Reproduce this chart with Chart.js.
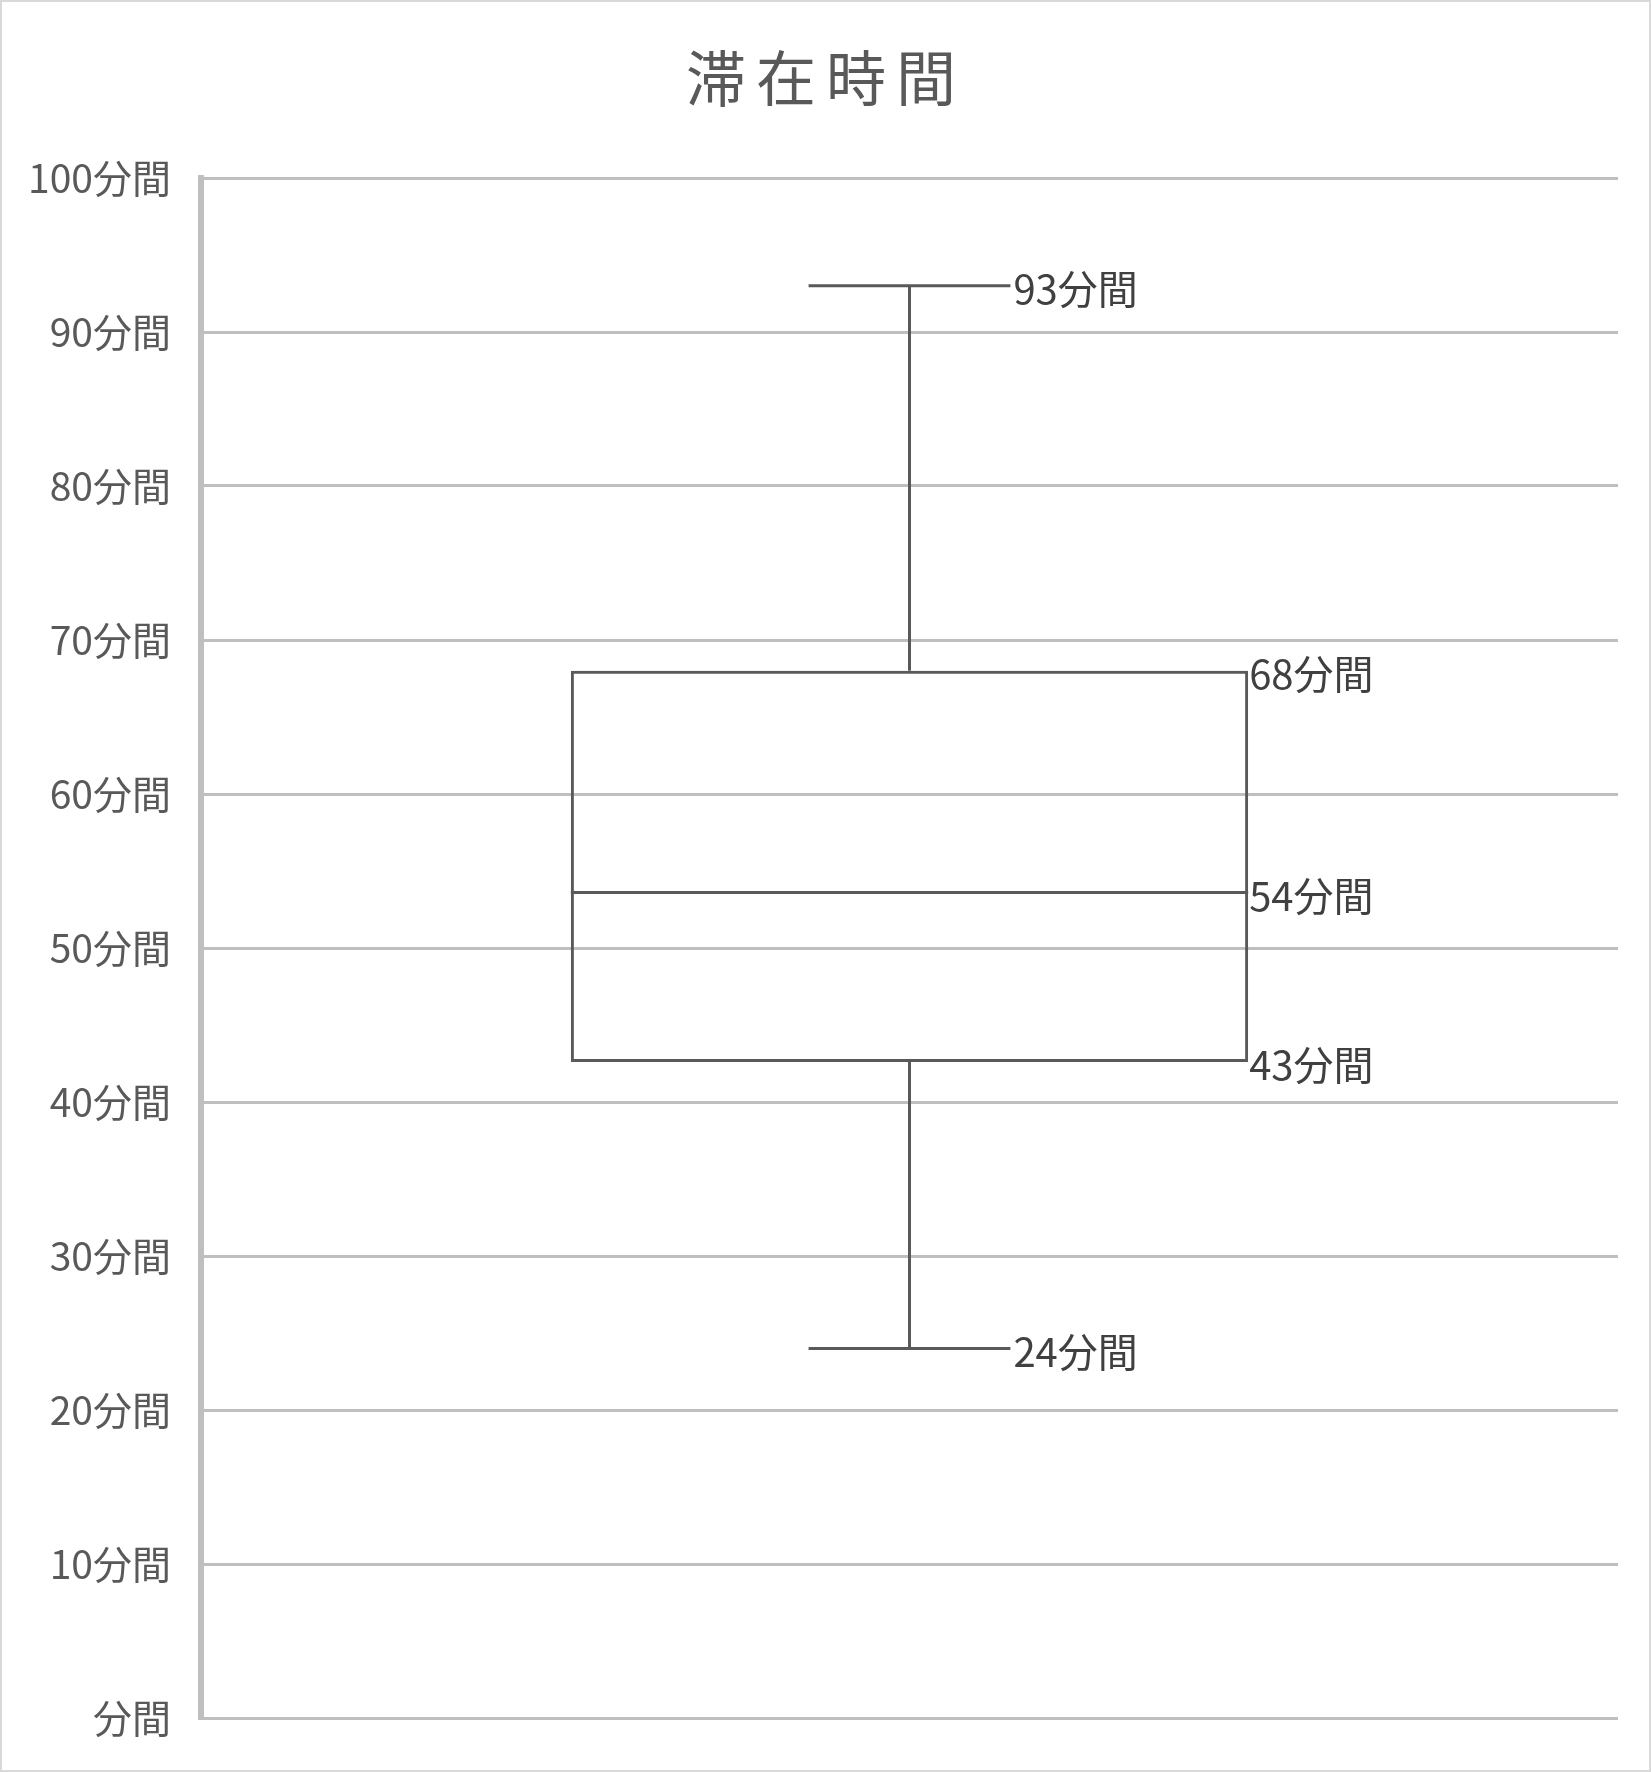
<!DOCTYPE html>
<html>
<head>
<meta charset="utf-8">
<script src="https://cdn.jsdelivr.net/npm/chart.js@4/dist/chart.umd.min.js"></script>
<style>
  html, body { margin: 0; padding: 0; background: #fff; }
  canvas { display: block; }
</style>
</head>
<body>
<canvas id="chart" width="1651" height="1772"></canvas>
<script>
// values
const CATEGORIES = ['滞在時間'];
const MIN_VALUES = [24];
const Q1_VALUES = [42.6];
const MEDIAN_VALUES = [53.6];
const Q3_VALUES = [68];
const MAX_VALUES = [93];
const TITLE = '滞在時間';
const UNIT = '分間';

const FONT = '"Noto Sans CJK JP", "Noto Sans", sans-serif';
const LINE = '#595959';

// white page with thin grey frame
const frame = {
    id: 'frame',
    beforeDraw(chart) {
        const ctx = chart.ctx;
        ctx.save();
        ctx.fillStyle = '#fff';
        ctx.fillRect(0, 0, chart.width, chart.height);
        ctx.strokeStyle = '#d9d9d9';
        ctx.lineWidth = 2;
        ctx.strokeRect(1, 1, chart.width - 2, chart.height - 2);
        ctx.restore();
    }
};

// spread the title letters a little, like the original
const titleSpacing = {
    id: 'titleSpacing',
    afterLayout(chart) {
        const t = chart.titleBlock;
        if (!t || t._spaced) return;
        const draw = t.draw.bind(t);
        t.draw = function () {
            const ctx = chart.ctx;
            ctx.save();
            ctx.letterSpacing = '10px';
            ctx.translate(17, 0);
            draw();
            ctx.restore();
        };
        t._spaced = true;
    }
};

// whiskers, median and value labels on top of the floating bar box
const boxPlot = {
    id: 'boxPlot',
    afterDatasetsDraw(chart) {
        const ctx = chart.ctx;
        const y = chart.scales.y;
        const meta = chart.getDatasetMeta(0);
        ctx.save();
        ctx.strokeStyle = LINE;
        ctx.lineWidth = 3;
        for (let i = 0; i < meta.data.length; i++) {
            const bar = meta.data[i];
            const x = bar.x;
            const half = bar.width / 2;
            const cap = bar.width * 0.149;
            const yMin = y.getPixelForValue(MIN_VALUES[i]);
            const yQ1 = y.getPixelForValue(Q1_VALUES[i]);
            const yMed = y.getPixelForValue(MEDIAN_VALUES[i]);
            const yQ3 = y.getPixelForValue(Q3_VALUES[i]);
            const yMax = y.getPixelForValue(MAX_VALUES[i]);

            ctx.beginPath();
            ctx.moveTo(x, yQ3); ctx.lineTo(x, yMax);
            ctx.moveTo(x, yQ1); ctx.lineTo(x, yMin);
            ctx.moveTo(x - cap, yMax); ctx.lineTo(x + cap, yMax);
            ctx.moveTo(x - cap, yMin); ctx.lineTo(x + cap, yMin);
            ctx.moveTo(x - half, yMed); ctx.lineTo(x + half, yMed);
            ctx.stroke();

            ctx.fillStyle = '#404040';
            ctx.font = '40px ' + FONT;
            ctx.textAlign = 'left';
            ctx.textBaseline = 'middle';
            ctx.fillText(Math.round(MAX_VALUES[i]) + UNIT, x + cap + 3, yMax + 3);
            ctx.fillText(Math.round(MIN_VALUES[i]) + UNIT, x + cap + 3, yMin + 3);
            ctx.fillText(Math.round(Q3_VALUES[i]) + UNIT, x + half + 1, yQ3 + 3);
            ctx.fillText(Math.round(MEDIAN_VALUES[i]) + UNIT, x + half + 1, yMed + 3);
            ctx.fillText(Math.round(Q1_VALUES[i]) + UNIT, x + half + 1, yQ1 + 3);
        }
        ctx.restore();
    }
};

const boxes = [];
for (let i = 0; i < CATEGORIES.length; i++) {
    boxes.push([Q1_VALUES[i], Q3_VALUES[i]]);
}

new Chart(document.getElementById('chart'), {
    type: 'bar',
    data: {
        labels: CATEGORIES,
        datasets: [{
            label: TITLE,
            data: boxes,
            backgroundColor: 'rgba(0,0,0,0)',
            borderColor: LINE,
            borderWidth: 3,
            borderSkipped: false,
            barPercentage: 0.478,
            categoryPercentage: 1
        }]
    },
    options: {
        responsive: false,
        animation: false,
        devicePixelRatio: 1,
        layout: { padding: { left: 0, right: 33, top: 0, bottom: 54 } },
        plugins: {
            legend: { display: false },
            tooltip: { enabled: false },
            title: {
                display: true,
                text: TITLE,
                color: LINE,
                font: { family: FONT, size: 60, weight: 'normal' },
                padding: { top: 42, bottom: 64 }
            }
        },
        scales: {
            x: { display: false },
            y: {
                min: 0,
                max: 100,
                afterFit(scale) { scale.width = 201; },
                ticks: {
                    stepSize: 10,
                    padding: 30,
                    color: LINE,
                    font: { family: FONT, size: 39 },
                    callback: (v) => (v === 0 ? '' : v) + UNIT
                },
                grid: { color: '#bfbfbf', lineWidth: 3, drawTicks: false },
                border: { display: true, color: '#bfbfbf', width: 6 }
            }
        }
    },
    plugins: [frame, titleSpacing, boxPlot]
});
</script>
</body>
</html>
